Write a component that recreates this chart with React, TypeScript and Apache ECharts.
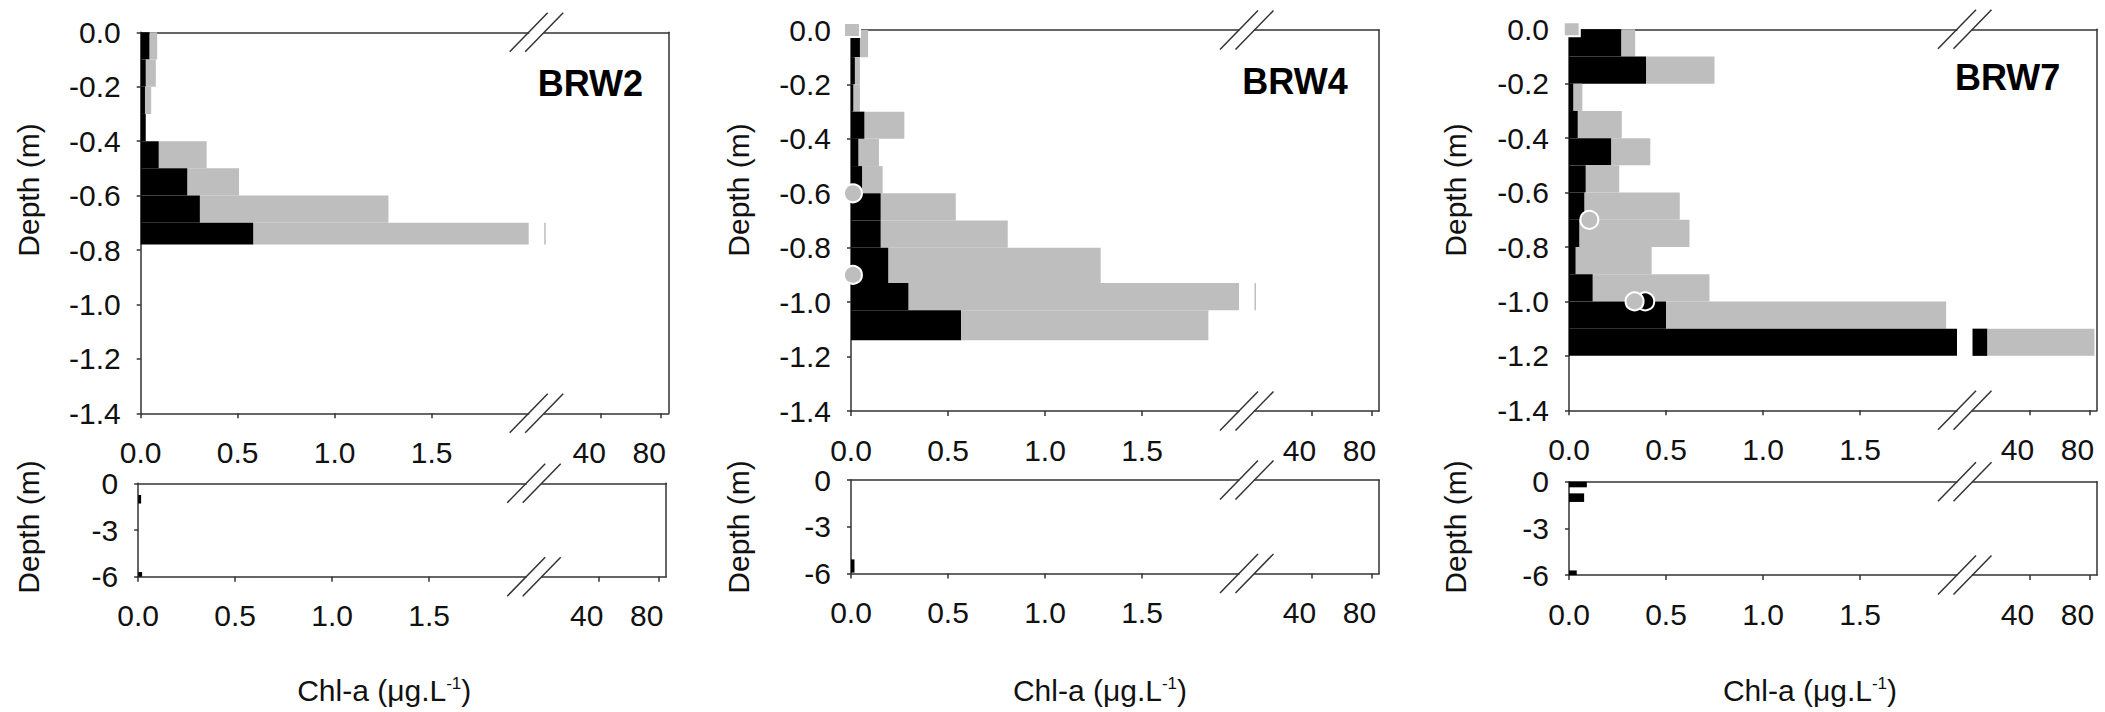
import React, { useEffect, useRef } from "react";
import * as echarts from "echarts";

// ---------------- data ----------------
const stationNames = ["BRW2", "BRW4", "BRW7"];

const xTickLeft = [0, 0.5, 1.0, 1.5];
const xTickRight = [40, 80];
const yTickTop = [0, -0.2, -0.4, -0.6, -0.8, -1.0, -1.2, -1.4];
const yTickBottom = [0, -3, -6];

// BRW2 – upper profile (depth interval, black part, total)
const brw2Top = [0, -0.1, -0.2, -0.3, -0.4, -0.5, -0.6, -0.7];
const brw2Bottom = [-0.1, -0.2, -0.3, -0.4, -0.5, -0.6, -0.7, -0.78];
const brw2Black = [0.045, 0.026, 0.022, 0.026, 0.093, 0.24, 0.305, 0.58];
const brw2Total = [0.085, 0.078, 0.054, 0.026, 0.34, 0.507, 1.277, 3.0];

// BRW4 – upper profile
const brw4Top = [0, -0.1, -0.2, -0.3, -0.4, -0.5, -0.6, -0.7, -0.8, -0.93, -1.03];
const brw4Bottom = [-0.1, -0.2, -0.3, -0.4, -0.5, -0.6, -0.7, -0.8, -0.93, -1.03, -1.14];
const brw4Black = [0.046, 0.02, 0.012, 0.069, 0.038, 0.057, 0.153, 0.153, 0.192, 0.296, 0.567];
const brw4Total = [0.088, 0.046, 0.046, 0.275, 0.144, 0.163, 0.54, 0.808, 1.287, 3.0, 1.842];

// BRW7 – upper profile
const brw7Top = [0, -0.1, -0.2, -0.3, -0.4, -0.5, -0.6, -0.7, -0.8, -0.9, -1.0, -1.1];
const brw7Bottom = [-0.1, -0.2, -0.3, -0.4, -0.5, -0.6, -0.7, -0.8, -0.9, -1.0, -1.1, -1.2];
const brw7Black = [0.269, 0.397, 0.022, 0.045, 0.217, 0.086, 0.079, 0.053, 0.034, 0.122, 0.5, 11.8];
const brw7Total = [0.341, 0.75, 0.069, 0.272, 0.419, 0.259, 0.571, 0.621, 0.426, 0.724, 1.944, 83.3];

// whole water column (lower panels)
const brw2DeepTop = [-0.75, -5.7];
const brw2DeepBottom = [-1.3, -6.0];
const brw2DeepBlack = [0.015, 0.02];
const brw4DeepTop = [-5.1];
const brw4DeepBottom = [-5.95];
const brw4DeepBlack = [0.018];
const brw7DeepTop = [0, -0.75, -5.7];
const brw7DeepBottom = [-0.36, -1.3, -6.0];
const brw7DeepBlack = [0.092, 0.078, 0.04];

// point samples
const brw4CircleX = [0.01, 0.01];
const brw4CircleDepth = [-0.6, -0.9];
const brw7CircleX = [0.105, 0.338];
const brw7CircleDepth = [-0.7, -1.0];
const brw7BlackCircleX = [0.393];
const brw7BlackCircleDepth = [-1.0];
const brw4SquareX = [0.005];
const brw4SquareDepth = [0];
const brw7SquareX = [0.014];
const brw7SquareDepth = [0];

const zip = (a: number[], b: number[]) => a.map((v, i) => [v, b[i]]);
const rows = (t: number[], b: number[], k: number[], tot: number[]) =>
  t.map((v, i) => [v, b[i], k[i], tot[i]]);

const stations = [
  {
    upper: rows(brw2Top, brw2Bottom, brw2Black, brw2Total),
    lower: rows(brw2DeepTop, brw2DeepBottom, brw2DeepBlack, brw2DeepBlack),
    circles: [] as number[][],
    blackCircles: [] as number[][],
    squares: [] as number[][],
  },
  {
    upper: rows(brw4Top, brw4Bottom, brw4Black, brw4Total),
    lower: rows(brw4DeepTop, brw4DeepBottom, brw4DeepBlack, brw4DeepBlack),
    circles: zip(brw4CircleX, brw4CircleDepth),
    blackCircles: [] as number[][],
    squares: zip(brw4SquareX, brw4SquareDepth),
  },
  {
    upper: rows(brw7Top, brw7Bottom, brw7Black, brw7Total),
    lower: rows(brw7DeepTop, brw7DeepBottom, brw7DeepBlack, brw7DeepBlack),
    circles: zip(brw7CircleX, brw7CircleDepth),
    blackCircles: zip(brw7BlackCircleX, brw7BlackCircleDepth),
    squares: zip(brw7SquareX, brw7SquareDepth),
  },
];

// ---------------- layout ----------------
const FONT = '"Liberation Sans", Arial, Helvetica, sans-serif';
const INK = "#111111";
const AXIS = "#333333";
const GRAY = "#bebebe";
const BLACK = "#000000";

const PANEL_LEFT = [140.7, 851, 1569];
const TOP_Y = [32.3, 30, 29.3];
const BOT_Y = [483.3, 480, 481.7];
const BOT_SHIFT = [-2.5, 0, 0];
const SEG_L_W = 388;
const GAP = 15.5;
const SEG_R_W = 124.5;
const TOP_H = 381;
const BOT_H = 93.4;
const LABEL_RIGHT = [25.7, 31.3, 36.7];
const LABEL_Y = [83.5, 81, 77.5];
const DEPTH_X = [28, 738, 1455];
const DEPTH_Y_TOP = 190;
const DEPTH_Y_BOT = 527;
const TITLE_DX = [243.5, 249, 241];
const TITLE_Y = 690;

const axisLine = { show: true, onZero: false, lineStyle: { color: AXIS, width: 1.5 } };
const labelFont = { color: INK, fontSize: 30, fontFamily: FONT };

function renderBars(params: any, api: any) {
  const y0 = api.value(0);
  const y1 = api.value(1);
  const k = api.value(2);
  const t = api.value(3);
  const cs = params.coordSys;
  const clipR = { x: cs.x, y: cs.y, width: cs.width, height: cs.height };
  const children: any[] = [];
  const mk = (a: number, b: number, color: string) => {
    const p0 = api.coord([a, y0]);
    const p1 = api.coord([b, y1]);
    const r = echarts.graphic.clipRectByRect(
      { x: p0[0], y: p0[1], width: p1[0] - p0[0], height: p1[1] - p0[1] },
      clipR
    );
    if (r && r.width > 0 && r.height > 0) {
      children.push({ type: "rect", shape: r, style: { fill: color } });
    }
  };
  if (t > k) mk(k, t, GRAY);
  if (k > 0) mk(0, k, BLACK);
  return { type: "group", children };
}

function buildOption() {
  const grid: any[] = [];
  const xAxis: any[] = [];
  const yAxis: any[] = [];
  const series: any[] = [];
  const graphic: any[] = [];

  stations.forEach((st, p) => {
    ["upper", "lower"].forEach((kind) => {
      const isTop = kind === "upper";
      const L = PANEL_LEFT[p] + (isTop ? 0 : BOT_SHIFT[p]);
      const T = isTop ? TOP_Y[p] : BOT_Y[p];
      const Hh = isTop ? TOP_H : BOT_H;
      const yMin = isTop ? -1.4 : -6;
      const yTicks = isTop ? yTickTop : yTickBottom;

      const gL = grid.length;
      grid.push({ left: L, top: T, width: SEG_L_W, height: Hh, containLabel: false, outerBoundsMode: "none", show: false });
      const gR = grid.length;
      grid.push({ left: L + SEG_L_W + GAP, top: T, width: SEG_R_W, height: Hh, containLabel: false, outerBoundsMode: "none", show: false });

      // left segment x axes
      const xL = xAxis.length;
      xAxis.push({
        type: "value", gridIndex: gL, position: "bottom", min: 0, max: 2,
        axisLine,
        axisTick: { show: true, customValues: xTickLeft, length: 5, lineStyle: { color: AXIS, width: 1.5 } },
        axisLabel: { ...labelFont, customValues: xTickLeft, margin: 24, formatter: (v: number) => v.toFixed(1) },
        splitLine: { show: false },
      });
      xAxis.push({
        type: "value", gridIndex: gL, position: "top", min: 0, max: 2,
        axisLine, axisTick: { show: false }, axisLabel: { show: false }, splitLine: { show: false },
      });
      // right segment x axes
      const xR = xAxis.length;
      xAxis.push({
        type: "value", gridIndex: gR, position: "bottom", min: 2, max: 85,
        axisLine,
        axisTick: { show: true, customValues: xTickRight, length: 5, lineStyle: { color: AXIS, width: 1.5 } },
        axisLabel: { ...labelFont, customValues: xTickRight, margin: 24, padding: [0, 24, 0, 0], formatter: (v: number) => String(v) },
        splitLine: { show: false },
      });
      xAxis.push({
        type: "value", gridIndex: gR, position: "top", min: 2, max: 85,
        axisLine, axisTick: { show: false }, axisLabel: { show: false }, splitLine: { show: false },
      });

      const yL = yAxis.length;
      yAxis.push({
        type: "value", gridIndex: gL, position: "left", min: yMin, max: 0,
        axisLine,
        axisTick: { show: true, customValues: yTicks, length: 4, lineStyle: { color: AXIS, width: 1.5 } },
        axisLabel: {
          ...labelFont, customValues: yTicks, margin: 20,
          formatter: (v: number) => (isTop ? v.toFixed(1) : String(Math.round(v))),
        },
        splitLine: { show: false },
      });
      const yR = yAxis.length;
      yAxis.push({
        type: "value", gridIndex: gR, position: "right", min: yMin, max: 0,
        axisLine, axisTick: { show: false }, axisLabel: { show: false }, splitLine: { show: false },
      });

      const data = isTop ? st.upper : st.lower;
      series.push({
        type: "custom", xAxisIndex: xL, yAxisIndex: yL, data, renderItem: renderBars,
        encode: { x: [2, 3], y: [0, 1] }, silent: true, z: 2,
      });
      series.push({
        type: "custom", xAxisIndex: xR, yAxisIndex: yR, data, renderItem: renderBars,
        encode: { x: [2, 3], y: [0, 1] }, silent: true, z: 2,
      });

      if (isTop) {
        if (st.blackCircles.length) {
          series.push({
            type: "scatter", xAxisIndex: xL, yAxisIndex: yL, data: st.blackCircles,
            symbol: "circle", symbolSize: 18, clip: false, silent: true, z: 3,
            itemStyle: { color: BLACK, borderColor: "#ffffff", borderWidth: 2, opacity: 1 },
          });
        }
        if (st.circles.length) {
          series.push({
            type: "scatter", xAxisIndex: xL, yAxisIndex: yL, data: st.circles,
            symbol: "circle", symbolSize: 18, clip: false, silent: true, z: 4,
            itemStyle: { color: GRAY, borderColor: "#ffffff", borderWidth: 2, opacity: 1 },
          });
        }
        if (st.squares.length) {
          series.push({
            type: "scatter", xAxisIndex: xL, yAxisIndex: yL, data: st.squares,
            symbol: "rect", symbolSize: [16, 14], clip: false, silent: true, z: 4,
            itemStyle: { color: GRAY, borderColor: "#ffffff", borderWidth: 2, opacity: 1 },
          });
        }
      }

      // axis-break marks
      [T, T + Hh].forEach((yE) => {
        [L + SEG_L_W, L + SEG_L_W + GAP].forEach((xE) => {
          graphic.push({
            type: "line", silent: true, z: 50,
            shape: { x1: xE - 19, y1: yE + 19.5, x2: xE + 19, y2: yE - 19.5 },
            style: { stroke: AXIS, lineWidth: 1.5 },
          });
        });
      });

      // Depth (m)
      graphic.push({
        type: "text", silent: true, z: 50,
        x: DEPTH_X[p], y: isTop ? DEPTH_Y_TOP : DEPTH_Y_BOT, rotation: Math.PI / 2,
        style: {
          text: "Depth (m)", fill: INK, font: `30px ${FONT}`,
          align: "center", verticalAlign: "middle", textAlign: "center", textVerticalAlign: "middle",
        },
      });
    });

    // station label
    graphic.push({
      type: "text", silent: true, z: 50,
      x: PANEL_LEFT[p] + SEG_L_W + GAP + SEG_R_W - LABEL_RIGHT[p], y: LABEL_Y[p],
      style: {
        text: stationNames[p], fill: "#000", font: `bold 36px ${FONT}`,
        align: "right", verticalAlign: "middle", textAlign: "right", textVerticalAlign: "middle",
      },
    });

    // x title
    graphic.push({
      type: "text", silent: true, z: 50,
      x: PANEL_LEFT[p] + TITLE_DX[p], y: TITLE_Y,
      style: {
        text: "{m|Chl-a (μg.L}{s|-1}{m|)}",
        rich: {
          m: { fontSize: 30, fontFamily: FONT, fill: INK, color: INK, lineHeight: 30 },
          s: { fontSize: 17, fontFamily: FONT, fill: INK, color: INK, lineHeight: 17, verticalAlign: "top" },
        },
        align: "center", verticalAlign: "middle", textAlign: "center", textVerticalAlign: "middle",
      },
    });
  });

  return {
    animation: false,
    backgroundColor: "#ffffff",
    grid,
    xAxis,
    yAxis,
    series,
    graphic: { elements: graphic },
  };
}

export default function App() {
  const ref = useRef<HTMLDivElement>(null);
  useEffect(() => {
    if (!ref.current) return;
    const chart = echarts.init(ref.current, null, { renderer: "svg" });
    chart.setOption(buildOption() as any);
    return () => chart.dispose();
  }, []);
  return (
    <div
      ref={ref}
      style={{ position: "absolute", left: 0, top: 0, width: 2105, height: 712, background: "#fff" }}
    />
  );
}
